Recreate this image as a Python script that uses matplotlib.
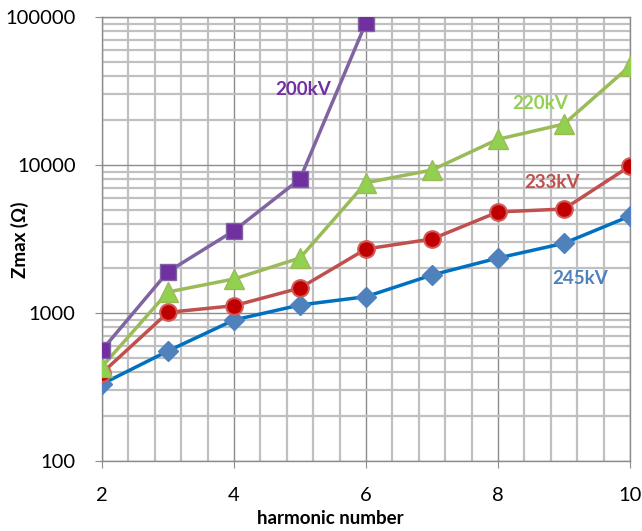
import matplotlib
matplotlib.use("Agg")
import matplotlib.pyplot as plt
from matplotlib.ticker import MultipleLocator, LogLocator, FixedLocator, NullFormatter

harmonics = [2, 3, 4, 5, 6, 7, 8, 9, 10]
z_245 = [331, 554, 897, 1133, 1289, 1806, 2352, 2958, 4520]
z_233 = [393, 1010, 1120, 1475, 2707, 3162, 4815, 5043, 9840]
z_220 = [434, 1387, 1698, 2353, 7590, 9250, 14920, 18920, 46650]
harm_200 = [2, 3, 4, 5, 6]
z_200 = [562, 1901, 3597, 8040, 91600]
x_ticks = [2, 4, 6, 8, 10]
y_ticks = [100, 1000, 10000, 100000]
labels = ["245kV", "233kV", "220kV", "200kV"]

plt.rcParams['font.family'] = ['Lato', 'DejaVu Sans']

fig = plt.figure(figsize=(6.42, 5.31), dpi=100)
ax = fig.add_axes([102/642, 1-461/531, (630-102)/642, (461-17)/531])
ax.set_yscale('log')
ax.set_xlim(2, 10)
ax.set_ylim(100, 100000)

# grid
ax.xaxis.set_major_locator(FixedLocator(x_ticks))
ax.xaxis.set_minor_locator(MultipleLocator(0.4))
ax.yaxis.set_major_locator(FixedLocator(y_ticks))
ax.yaxis.set_minor_locator(LogLocator(base=10, subs=range(2, 10)))
ax.yaxis.set_minor_formatter(NullFormatter())
ax.grid(True, which='minor', color='#C0C0C0', lw=1.6, zorder=0)
ax.grid(True, which='major', color='#8C8C8C', lw=1.0, zorder=0.5)
ax.set_axisbelow(True)

ax.set_yticklabels([str(v) for v in y_ticks])
ax.set_xticklabels([str(v) for v in x_ticks])
ax.tick_params(which='minor', length=0)
ax.tick_params(which='major', length=5, color='#8C8C8C', labelsize=14.5)
ax.tick_params(axis='y', which='major', pad=14)
ax.tick_params(axis='x', which='major', pad=14)
for s in ax.spines.values():
    s.set_color('#8C8C8C')
    s.set_linewidth(1.0)

ax.plot(harmonics, z_245, color='#0070C0', lw=2.5, marker='D', ms=10,
        mfc='#4F81BD', mec='#4F81BD', zorder=3)
ax.plot(harmonics, z_233, color='#C0504D', lw=2.5, marker='o', ms=12,
        mfc='#C00000', mec='#D25A57', mew=1.5, zorder=3)
ax.plot(harmonics, z_220, color='#9BBB59', lw=2.5, marker='^', ms=14,
        mfc='#92D050', mec='#9BBB59', zorder=3)
ax.plot(harm_200, z_200, color='#8064A2', lw=2.5, marker='s', ms=11,
        mfc='#7030A0', mec='#8064A2', zorder=4)

ax.text(9.24, 1720, labels[0], color='#4F81BD', fontsize=13.5, fontweight='bold',
        ha='center', va='center')
ax.text(8.82, 7600, labels[1], color='#C0504D', fontsize=13.5, fontweight='bold',
        ha='center', va='center')
ax.text(8.64, 26000, labels[2], color='#92D050', fontsize=13.5, fontweight='bold',
        ha='center', va='center')
ax.text(5.05, 32500, labels[3], color='#7030A0', fontsize=13.5, fontweight='bold',
        ha='center', va='center')

ax.set_xlabel('harmonic number', fontsize=13.5, fontweight='bold')
ax.xaxis.set_label_coords((330-102)/528, -(518-461)/444)
ax.xaxis.label.set_va('center')
ax.set_ylabel('Zmax (Ω)', fontsize=13.5, fontweight='bold')
ax.yaxis.set_label_coords((20-102)/528, (461-240)/444)
ax.yaxis.label.set_va('center')

fig.savefig('out.png', dpi=100)
